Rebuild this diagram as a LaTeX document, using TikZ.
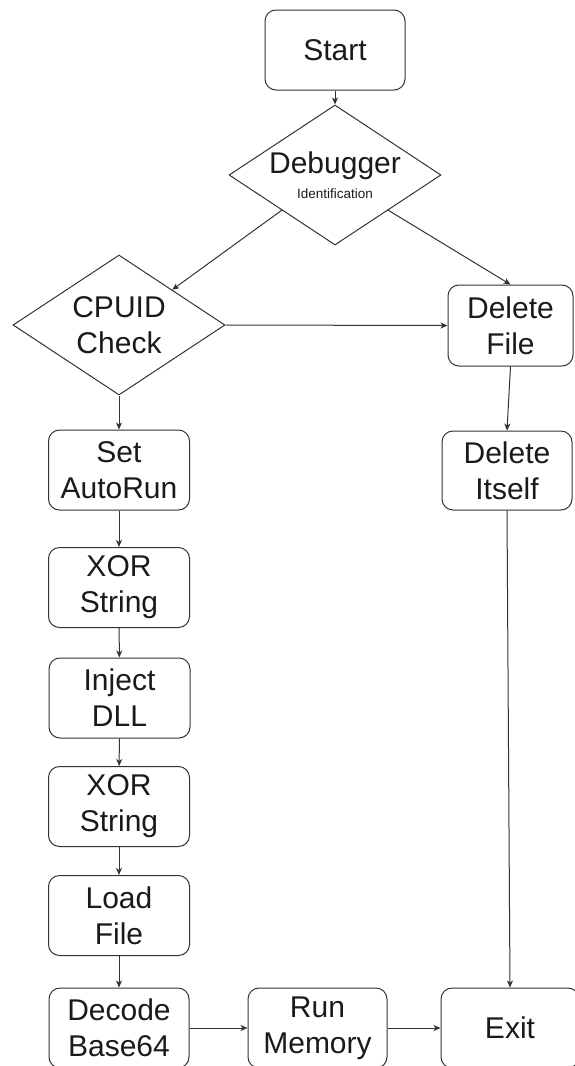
\documentclass[tikz,border=0pt]{standalone}
\usepackage{fontspec}
\setmainfont{Liberation Sans}
\usetikzlibrary{shapes.geometric,arrows.meta,calc}

\definecolor{edge}{HTML}{333333}
\definecolor{ink}{HTML}{1A1A1A}

\tikzset{
  every node/.style={text=ink, font=\fontsize{30}{36}\selectfont, align=center},
  box/.style={draw=edge, line width=1pt, rounded corners=11pt, inner sep=0pt,
              minimum height=80pt},
  decision/.style={draw=edge, line width=1pt, diamond, shape aspect=1.514,
                   inner sep=0pt, minimum width=212pt, minimum height=140pt},
  flow/.style={draw=edge, line width=1pt,
               -{Stealth[length=7pt,width=6pt,inset=2pt]}},
}

\begin{document}
\begin{tikzpicture}[x=1pt, y=-1pt]
  \useasboundingbox (0,0) rectangle (575,1066);

  % top: entry and the two checks
  \node[box, minimum width=140pt] (start) at (335,50) {Start};
  \node[decision] (debug) at (335,175)
    {Debugger\\[-11pt]{\fontsize{13.5}{16}\selectfont Identification}};
  \node[decision] (cpuid) at (119,325) {CPUID\\Check};

  % right branch: clean-up
  \node[box, minimum width=125pt, minimum height=81pt] (delfile) at (510.5,325.5) {Delete\\File};
  \node[box, minimum width=130pt, minimum height=79pt] (delself) at (507,470.5) {Delete\\Itself};

  % left column: payload steps
  \node[box, minimum width=141pt] (autorun) at (119,470) {Set\\AutoRun};
  \node[box, minimum width=141pt] (xorA)    at (119,587.5) {XOR\\String};
  \node[box, minimum width=141pt] (inject)  at (119.5,698) {Inject\\DLL};
  \node[box, minimum width=141pt] (xorB)    at (119,806.5) {XOR\\String};
  \node[box, minimum width=141pt] (load)    at (119,915.5) {Load\\File};

  % bottom row
  \node[box, minimum width=140pt] (decode) at (119,1028) {Decode\\Base64};
  \node[box, minimum width=139pt] (run)    at (317.5,1028) {Run\\Memory};
  \node[box, minimum width=138pt] (exit)   at (510,1028) {Exit};

  % connectors
  \draw[flow] (start) -- (debug.north);
  \draw[flow] ($(debug.west)!0.5!(debug.south)$) -- ($(cpuid.north)!0.5!(cpuid.east)$);
  \draw[flow] ($(debug.east)!0.5!(debug.south)$) -- (delfile.north);
  \draw[flow] (cpuid.east) -- (delfile.west);
  \draw[flow] (delfile.south) -- (delself.north);
  \draw[flow] (delself.south) -- (exit.north);
  \draw[flow] (cpuid.south) -- (autorun.north);
  \draw[flow] (autorun) -- (xorA);
  \draw[flow] (xorA) -- (inject);
  \draw[flow] (inject) -- (xorB);
  \draw[flow] (xorB) -- (load);
  \draw[flow] (load) -- (decode);
  \draw[flow] (decode) -- (run);
  \draw[flow] (run) -- (exit);
\end{tikzpicture}
\end{document}
